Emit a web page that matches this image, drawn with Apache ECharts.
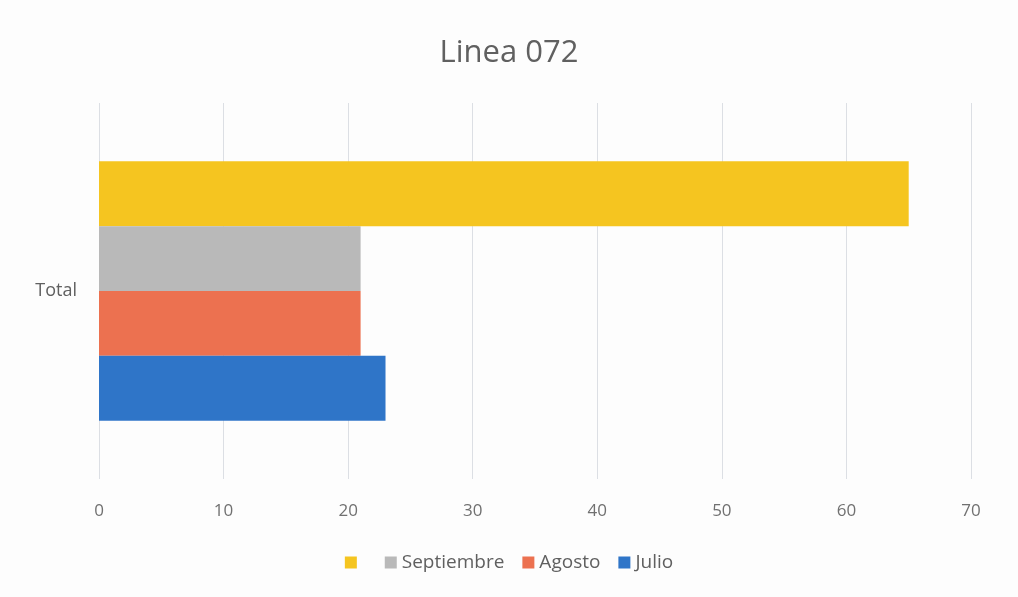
<!DOCTYPE html>
<html>
<head>
<meta charset="utf-8">
<script src="https://cdn.jsdelivr.net/npm/echarts@6/dist/echarts.min.js"></script>
<style>
html,body{margin:0;padding:0;background:#fff;}
#c{width:1018px;height:597px;}
</style>
</head>
<body>
<div id="c"></div>
<script>
var categories = ['Total'];
var seriesNames = [' ', 'Septiembre', 'Agosto', 'Julio'];
var otro = [65];
var septiembre = [21];
var agosto = [21];
var julio = [23];
var xTicks = [0, 10, 20, 30, 40, 50, 60, 70];
var legendOrder = [' ', 'Septiembre', 'Agosto', 'Julio'];
var colors = ['#f5c520', '#b9b9b9', '#ec7150', '#2f75c8'];

var values = [otro, septiembre, agosto, julio];
var chart = echarts.init(document.getElementById('c'));
chart.setOption({
  backgroundColor: '#fdfdfd',
  animation: false,
  title: {
    text: 'Linea 072',
    left: 'center',
    top: 33,
    textStyle: {fontFamily: 'Open Sans', fontSize: 31, fontWeight: 'normal', color: '#606060'}
  },
  legend: {
    data: legendOrder,
    bottom: 20,
    left: 'center',
    itemWidth: 12,
    itemHeight: 12,
    itemGap: 18,
    icon: 'rect',
    textStyle: {fontFamily: 'Open Sans', fontSize: 19, color: '#606060'}
  },
  grid: {left: 99, right: 47, top: 103, bottom: 118, containLabel: false},
  xAxis: {
    type: 'value',
    min: xTicks[0],
    max: xTicks[xTicks.length - 1],
    interval: 10,
    axisLine: {show: false},
    axisTick: {show: false},
    axisLabel: {fontFamily: 'Open Sans', fontSize: 17, color: '#707070', margin: 24},
    splitLine: {lineStyle: {color: '#dcdfe4', width: 1}}
  },
  yAxis: {
    type: 'category',
    data: categories,
    axisLine: {show: false},
    axisTick: {show: false},
    axisLabel: {fontFamily: 'Open Sans', fontSize: 18, color: '#606060', margin: 22}
  },
  series: seriesNames.map(function (n, i) {
    return {
      name: n,
      type: 'bar',
      data: values[i],
      barGap: '0%',
      barCategoryGap: '31%',
      itemStyle: {color: colors[i]}
    };
  })
});
</script>
</body>
</html>
